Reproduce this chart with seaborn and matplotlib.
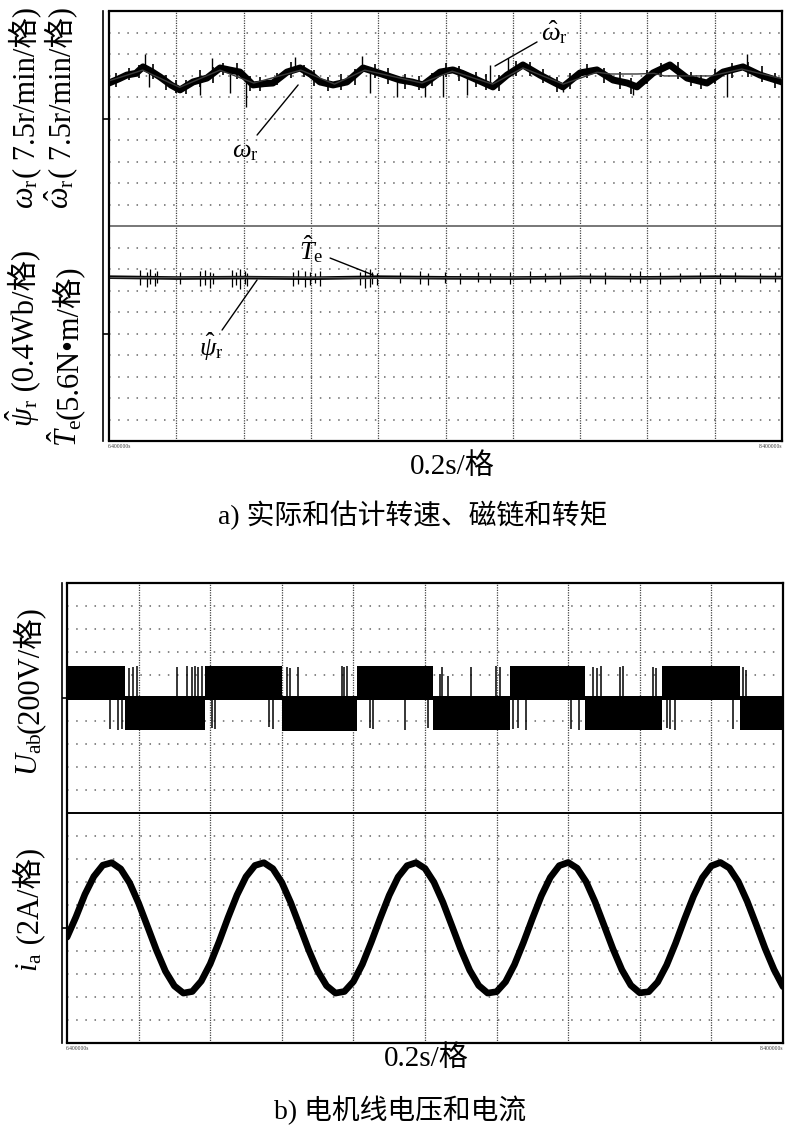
import numpy as np
import matplotlib
matplotlib.use('Agg')
import matplotlib.pyplot as plt
import seaborn as sns

sns.set_theme(style='white')
plt.rcParams['font.family'] = ['Liberation Serif', 'Noto Sans CJK SC']
plt.rcParams['mathtext.fontset'] = 'custom'
plt.rcParams['mathtext.rm'] = 'Liberation Serif'
plt.rcParams['mathtext.it'] = 'Liberation Serif:italic'
plt.rcParams['mathtext.bf'] = 'Liberation Serif:bold'

# ---- panel a: speed channel (divisions from channel centre), time in s ----
omega_t = [0.000, 0.030, 0.053, 0.080, 0.101, 0.125, 0.152, 0.185, 0.211, 0.250,
           0.291, 0.330, 0.360, 0.389, 0.428, 0.460, 0.487, 0.529, 0.568, 0.600,
           0.627, 0.666, 0.707, 0.755, 0.805, 0.865, 0.900, 0.933, 0.984, 1.022,
           1.050, 1.082, 1.141, 1.183, 1.230, 1.281, 1.320, 1.349, 1.400, 1.450,
           1.498, 1.540, 1.569, 1.617, 1.667, 1.718, 1.777, 1.825, 1.884, 1.935, 2.000]
omega_val = [1.65, 1.85, 2.02, 2.10, 2.40, 2.20, 1.93, 1.55, 1.33, 1.70,
             1.88, 2.35, 2.25, 2.16, 1.56, 1.62, 1.65, 2.16, 2.35, 2.05,
             1.70, 1.56, 1.70, 2.35, 2.10, 1.79, 1.70, 1.56, 2.16, 2.26,
             2.10, 1.88, 1.47, 2.02, 2.49, 2.02, 1.70, 1.47, 2.12, 2.26,
             1.79, 1.65, 1.47, 2.12, 2.49, 1.88, 1.65, 2.16, 2.40, 2.02, 1.70]
omega_hat_t = [0.00, 0.10, 0.21, 0.33, 0.43, 0.57, 0.67, 0.76, 0.93, 1.02, 1.14,
               1.23, 1.35, 1.45, 1.49, 1.57, 1.62, 1.65, 1.79, 1.88, 2.00]
omega_hat_val = [1.75, 2.25, 1.45, 2.25, 1.65, 2.25, 1.60, 2.25, 1.65, 2.20, 1.60,
                 2.35, 1.60, 2.15, 2.07, 2.07, 2.10, 1.98, 1.98, 2.30, 1.85]
omega_spike_t = [0.107, 0.119, 0.270, 0.306, 0.360, 0.407, 0.553, 0.752, 0.776, 0.856,
                 0.939, 0.993, 1.064, 1.132, 1.186, 1.349, 1.557, 1.837, 1.896]
omega_spike_tip = [2.98, 1.47, 1.09, 2.81, 1.19, 0.53, 2.86, 2.91, 1.19, 1.00,
                   1.00, 1.00, 1.09, 2.49, 2.81, 1.23, 1.09, 1.00, 2.98]
# short noise strokes on the speed trace (excursion below / above the trace)
omega_fuzz_t = [0.02, 0.06, 0.09, 0.13, 0.17, 0.20, 0.23, 0.27, 0.31, 0.34,
                0.38, 0.42, 0.45, 0.50, 0.54, 0.58, 0.61, 0.65, 0.69, 0.73,
                0.79, 0.83, 0.88, 0.92, 0.96, 1.00, 1.04, 1.09, 1.12, 1.16,
                1.21, 1.25, 1.29, 1.33, 1.37, 1.42, 1.47, 1.52, 1.55, 1.60,
                1.64, 1.69, 1.73, 1.76, 1.80, 1.85, 1.90, 1.94, 1.98]
omega_fuzz_dn = [0.30, 0.25, 0.35, 0.30, 0.40, 0.25, 0.35, 0.30, 0.45, 0.30,
                 0.35, 0.40, 0.30, 0.25, 0.35, 0.30, 0.40, 0.35, 0.30, 0.45,
                 0.30, 0.35, 0.40, 0.30, 0.35, 0.25, 0.40, 0.35, 0.30, 0.45,
                 0.30, 0.35, 0.30, 0.40, 0.35, 0.30, 0.40, 0.35, 0.45, 0.30,
                 0.35, 0.40, 0.30, 0.35, 0.30, 0.40, 0.35, 0.30, 0.40]
omega_fuzz_up = [0.35, 0.30, 0.25, 0.40, 0.30, 0.35, 0.30, 0.45, 0.30, 0.25,
                 0.40, 0.30, 0.35, 0.30, 0.40, 0.25, 0.35, 0.30, 0.45, 0.30,
                 0.35, 0.40, 0.30, 0.35, 0.25, 0.40, 0.30, 0.35, 0.45, 0.30,
                 0.40, 0.30, 0.35, 0.30, 0.40, 0.35, 0.30, 0.45, 0.30, 0.35,
                 0.30, 0.40, 0.35, 0.30, 0.40, 0.30, 0.35, 0.45, 0.30]

# ---- panel a: flux / torque channel ----
flux_t = [0.0, 0.2, 0.4, 0.6, 0.8, 1.0, 1.2, 1.4, 1.6, 1.8, 2.0]
psi_hat_val = [2.60, 2.60, 2.61, 2.60, 2.59, 2.60, 2.60, 2.61, 2.60, 2.60, 2.60]
te_hat_val = [2.62, 2.58, 2.60, 2.57, 2.62, 2.59, 2.58, 2.61, 2.59, 2.62, 2.60]
te_spike_t = [0.092, 0.113, 0.122, 0.137, 0.143, 0.211, 0.270, 0.285, 0.300, 0.309,
              0.366, 0.377, 0.389, 0.404, 0.410, 0.547, 0.562, 0.582, 0.597, 0.612,
              0.627, 0.746, 0.761, 0.776, 0.782, 0.796, 0.865, 0.924, 0.948, 0.999,
              1.043, 1.097, 1.132, 1.192, 1.251, 1.296, 1.340, 1.429, 1.474, 1.548,
              1.578, 1.637, 1.697, 1.756, 1.816, 1.860, 1.935, 1.979]
te_spike_lo = [2.25, 2.15, 2.30, 2.20, 2.35, 2.30, 2.20, 2.25, 2.10, 2.30,
               2.15, 2.25, 2.05, 2.30, 2.20, 2.20, 2.30, 2.15, 2.25, 2.35,
               2.20, 2.25, 2.10, 2.15, 2.30, 2.25, 2.35, 2.30, 2.25, 2.35,
               2.30, 2.40, 2.35, 2.30, 2.35, 2.40, 2.30, 2.35, 2.30, 2.40,
               2.35, 2.30, 2.40, 2.35, 2.30, 2.40, 2.35, 2.40]
te_spike_hi = [2.95, 2.85, 3.00, 2.80, 2.90, 2.85, 2.90, 2.95, 2.85, 2.80,
               2.95, 2.85, 3.00, 2.90, 2.80, 2.85, 2.95, 2.90, 2.85, 2.80,
               2.90, 2.85, 2.95, 3.00, 2.85, 2.80, 2.85, 2.90, 2.80, 2.85,
               2.80, 2.85, 2.80, 2.85, 2.90, 2.80, 2.85, 2.80, 2.85, 2.80,
               2.90, 2.85, 2.80, 2.85, 2.80, 2.85, 2.80, 2.85]

# ---- panel b: line voltage (PWM band edges) ----
u_edges = [0.0, 0.163, 0.385, 0.600, 0.810, 1.022, 1.237, 1.447, 1.662, 1.880, 2.0]
u_band_top = [1.40, 0.10, 1.38, 0.08, 1.40, 0.10, 1.39, 0.08, 1.40, 0.10]
u_band_bot = [-0.08, -1.40, -0.10, -1.42, -0.08, -1.40, -0.10, -1.41, -0.08, -1.38]
u_dn_t = [0.120, 0.142, 0.154, 0.405, 0.413, 0.564, 0.575, 0.846, 0.855, 0.944,
          1.008, 1.246, 1.260, 1.282, 1.408, 1.430, 1.676, 1.684, 1.698, 1.860]
u_dn_tip = [-1.35, -1.40, -1.35, -1.30, -1.35, -1.25, -1.35, -1.30, -1.35, -1.40,
            -1.30, -1.35, -1.30, -1.40, -1.35, -1.40, -1.30, -1.35, -1.40, -1.35]
u_up_t = [0.173, 0.184, 0.196, 0.307, 0.335, 0.349, 0.358, 0.366, 0.377, 0.615,
          0.623, 0.645, 0.768, 0.774, 0.782, 1.042, 1.047, 1.064, 1.128, 1.198,
          1.209, 1.469, 1.480, 1.492, 1.545, 1.553, 1.637, 1.645, 1.888, 1.897]
u_up_tip = [1.30, 1.35, 1.40, 1.35, 1.40, 1.35, 1.40, 1.35, 1.40, 1.35,
            1.30, 1.35, 1.40, 1.35, 1.40, 1.05, 1.35, 0.95, 1.35, 1.40,
            1.35, 1.35, 1.30, 1.40, 1.35, 1.40, 1.35, 1.30, 1.35, 1.20]

# ---- panel b: phase current ----
ia_t = [0.000, 0.025, 0.050, 0.075, 0.100, 0.125, 0.150, 0.175, 0.200, 0.225,
        0.250, 0.275, 0.300, 0.325, 0.350, 0.375, 0.400, 0.425, 0.450, 0.475,
        0.500, 0.525, 0.550, 0.575, 0.600, 0.625, 0.650, 0.675, 0.700, 0.725,
        0.750, 0.775, 0.800, 0.825, 0.850, 0.875, 0.900, 0.925, 0.950, 0.975,
        1.000, 1.025, 1.050, 1.075, 1.100, 1.125, 1.150, 1.175, 1.200, 1.225,
        1.250, 1.275, 1.300, 1.325, 1.350, 1.375, 1.400, 1.425, 1.450, 1.475,
        1.500, 1.525, 1.550, 1.575, 1.600, 1.625, 1.650, 1.675, 1.700, 1.725,
        1.750, 1.775, 1.800, 1.825, 1.850, 1.875, 1.900, 1.925, 1.950, 1.975, 2.000]
ia_val = [-0.40, 0.48, 1.46, 2.24, 2.73, 2.84, 2.57, 1.96, 1.08, 0.06,
          -0.97, -1.88, -2.52, -2.83, -2.76, -2.31, -1.56, -0.59, 0.46, 1.44,
          2.23, 2.72, 2.84, 2.58, 1.98, 1.10, 0.08, -0.95, -1.86, -2.51,
          -2.83, -2.76, -2.33, -1.58, -0.61, 0.43, 1.42, 2.22, 2.71, 2.84,
          2.59, 1.99, 1.12, 0.10, -0.93, -1.84, -2.50, -2.83, -2.77, -2.34,
          -1.59, -0.63, 0.41, 1.40, 2.20, 2.71, 2.85, 2.60, 2.01, 1.14,
          0.12, -0.91, -1.82, -2.49, -2.82, -2.77, -2.35, -1.61, -0.66, 0.39,
          1.38, 2.19, 2.70, 2.85, 2.61, 2.02, 1.16, 0.15, -0.89, -1.81, -2.55]

W, H = 785, 1128
fig = plt.figure(figsize=(W / 100, H / 100), dpi=100)
ax_a = fig.add_axes([109 / W, 1 - 441 / H, 673 / W, 430 / H])
ax_b = fig.add_axes([67 / W, 1 - 1043 / H, 716 / W, 460 / H])


def scope(ax, sep_color, outward):
    ax.set_xlim(0, 2.0)
    ax.set_ylim(-10, 10)
    for x in np.arange(0.2, 1.99, 0.2):
        ax.axvline(x, color='#444444', lw=0.9, ls=(0, (1, 1)), zorder=1)
    for y in range(-9, 10):
        if y != 0:
            ax.axhline(y, color='#666666', lw=1.1, ls=(0, (1, 5)), zorder=1)
    ax.axhline(0, color=sep_color, lw=1.4, zorder=2)
    ax.axvline(0, color='black', lw=1.6, zorder=5, clip_on=False)
    for s in ['top', 'right', 'bottom']:
        ax.spines[s].set_color('black')
        ax.spines[s].set_linewidth(1.6)
    ax.spines['left'].set_color('black')
    ax.spines['left'].set_linewidth(1.2)
    ax.spines['left'].set_position(('outward', outward))
    ax.set_xticks([])
    ax.set_yticks([5, -5])
    ax.set_yticklabels([])
    ax.tick_params(axis='y', left=True, direction='in', length=outward, width=1.2, color='black')
    ax.set_xlabel('')
    ax.set_ylabel('')


# panel a
scope(ax_a, '#777777', 4.3)
top, bot = 5, -5
sns.lineplot(x=omega_t, y=np.array(omega_val) + top, ax=ax_a, color='black', lw=5.0,
             estimator=None, sort=False, zorder=3, solid_joinstyle='round')
fuzz_base = np.interp(omega_fuzz_t, omega_t, omega_val) + top
ax_a.vlines(omega_fuzz_t, fuzz_base - np.array(omega_fuzz_dn), fuzz_base + np.array(omega_fuzz_up),
            color='black', lw=1.2, zorder=3)
sns.lineplot(x=omega_hat_t, y=np.array(omega_hat_val) + top, ax=ax_a, color='#3a3a3a', lw=1.0,
             estimator=None, sort=False, zorder=4)
ax_a.vlines(omega_spike_t, np.interp(omega_spike_t, omega_t, omega_val) + top,
            np.array(omega_spike_tip) + top, color='black', lw=1.0, zorder=3)
sns.lineplot(x=flux_t, y=np.array(te_hat_val) + bot, ax=ax_a, color='black', lw=2.6,
             estimator=None, sort=False, zorder=3)
sns.lineplot(x=flux_t, y=np.array(psi_hat_val) + bot, ax=ax_a, color='#555555', lw=1.0,
             estimator=None, sort=False, zorder=4)
ax_a.vlines(te_spike_t, np.array(te_spike_lo) + bot, np.array(te_spike_hi) + bot,
            color='black', lw=0.9, zorder=3)

lab = dict(fontsize=19, color='black', ha='center', va='center')
line = dict(arrowstyle='-', color='black', lw=1.0, shrinkA=0, shrinkB=0)
ax_a.annotate('', xy=(1.147, 7.44), xytext=(1.272, 8.56), arrowprops=line)
ax_a.text(1.325, 9.0, r'$\hat{\omega}_{\mathrm{r}}$', **lab)
ax_a.annotate('', xy=(0.562, 6.56), xytext=(0.440, 4.23), arrowprops=line)
ax_a.text(0.404, 3.45, r'$\omega_{\mathrm{r}}$', **lab)
ax_a.annotate('', xy=(0.785, -2.28), xytext=(0.657, -1.49), arrowprops=line)
ax_a.text(0.600, -1.05, r'$\hat{T}_{\mathrm{e}}$', **lab)
ax_a.annotate('', xy=(0.440, -2.51), xytext=(0.336, -4.84), arrowprops=line)
ax_a.text(0.305, -5.6, r'$\hat{\psi}_{\mathrm{r}}$', **lab)

# panel b
scope(ax_b, 'black', 3.6)
u_top_step = np.array(u_band_top + [u_band_top[-1]]) + top
u_bot_step = np.array(u_band_bot + [u_band_bot[-1]]) + top
ax_b.fill_between(u_edges, u_bot_step, u_top_step, step='post', color='black', lw=0, zorder=3)
ax_b.vlines(u_dn_t, top, np.array(u_dn_tip) + top, color='black', lw=1.1, zorder=3)
ax_b.vlines(u_up_t, top, np.array(u_up_tip) + top, color='black', lw=1.1, zorder=3)
sns.lineplot(x=ia_t, y=np.array(ia_val) + bot, ax=ax_b, color='black', lw=4.8,
             estimator=None, sort=False, zorder=3, solid_joinstyle='round',
             solid_capstyle='round')


# rotated channel titles: math part and plain part (with CJK fallback) placed
# one after another along a common baseline
def vlabel(x_px, yc_px, parts, size=22):
    texts = [fig.text(x_px / W, 0, p, rotation=90, rotation_mode='anchor',
                      ha='left', va='baseline', fontsize=size, color='black')
             for p in parts]
    fig.canvas.draw()
    r = fig.canvas.get_renderer()
    lens = [t.get_window_extent(r).height for t in texts]
    y = (H - yc_px) - sum(lens) / 2
    for t, n in zip(texts, lens):
        t.set_position((x_px / W, y / H))
        y += n


vlabel(34, 108, [r'$\omega_{\mathrm{r}}$', '( 7.5r/min/格)'])
vlabel(70, 108, [r'$\hat{\omega}_{\mathrm{r}}$', '( 7.5r/min/格)'])
vlabel(33, 338, [r'$\hat{\psi}_{\mathrm{r}}$', ' (0.4Wb/格)'])
vlabel(77, 356, [r'$\hat{T}_{\mathrm{e}}$', '(5.6N•m/格)'])
vlabel(38, 691, [r'$U_{\mathrm{ab}}$', '(200V/格)'])
vlabel(38, 910, [r'$i_{\mathrm{a}}$', ' (2A/格)'])

tx = dict(ha='center', va='center', color='black')
fig.text(452 / W, 1 - 466 / H, '0.2s/格', fontsize=21, **tx)
fig.text(413 / W, 1 - 515 / H, 'a) 实际和估计转速、磁链和转矩', fontsize=20, **tx)
fig.text(426 / W, 1 - 1058 / H, '0.2s/格', fontsize=21, **tx)
fig.text(400 / W, 1 - 1110 / H, 'b) 电机线电压和电流', fontsize=20, **tx)

small = dict(fontsize=4, color='#333333', va='center')
fig.text(108 / W, 1 - 447 / H, '6.400000s', ha='left', **small)
fig.text(782 / W, 1 - 447 / H, '8.400000s', ha='right', **small)
fig.text(66 / W, 1 - 1049 / H, '6.400000s', ha='left', **small)
fig.text(783 / W, 1 - 1049 / H, '8.400000s', ha='right', **small)

fig.savefig('out.png', dpi=100)
